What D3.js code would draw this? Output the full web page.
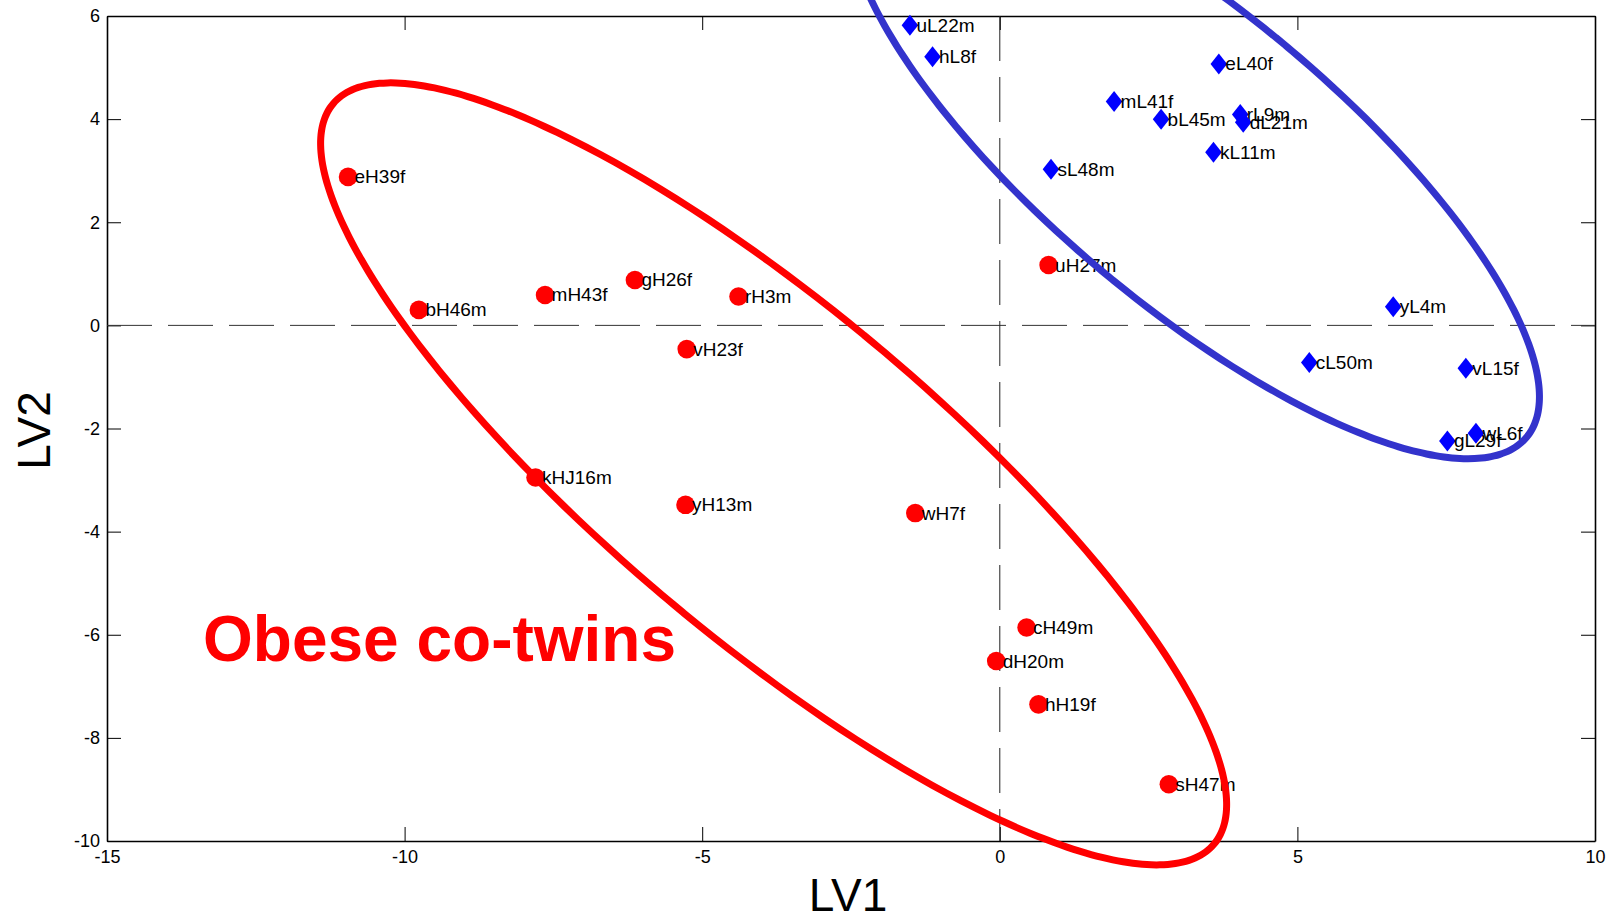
<!DOCTYPE html>
<html>
<head>
<meta charset="utf-8">
<script src="https://cdn.jsdelivr.net/npm/d3@7"></script>
<style>
  body { margin: 0; background: #fff; }
  text { font-family: "Liberation Sans", Arial, sans-serif; }
</style>
</head>
<body>
<svg id="chart" width="1616" height="917"></svg>
<script>
// lean co-twins (blue diamonds)
const leanNames = ["uL22m", "hL8f", "eL40f", "mL41f", "bL45m", "rL9m", "dL21m", "kL11m", "sL48m", "yL4m", "cL50m", "vL15f", "gL29f", "wL6f"]
const leanX = [-1.51, -1.13, 3.68, 1.92, 2.71, 4.04, 4.09, 3.59, 0.86, 6.61, 5.20, 7.83, 7.52, 8.00]
const leanY = [5.82, 5.21, 5.07, 4.34, 4.00, 4.09, 3.94, 3.36, 3.03, 0.36, -0.72, -0.83, -2.24, -2.09]

// obese co-twins (red circles)
const obeseNames = ["eH39f", "bH46m", "mH43f", "gH26f", "rH3m", "vH23f", "kHJ16m", "yH13m", "wH7f", "uH27m", "cH49m", "dH20m", "hH19f", "sH47m"]
const obeseX = [-10.95, -9.76, -7.64, -6.13, -4.39, -5.26, -7.80, -5.28, -1.42, 0.82, 0.45, -0.06, 0.65, 2.84]
const obeseY = [2.88, 0.30, 0.59, 0.88, 0.56, -0.46, -2.95, -3.48, -3.64, 1.17, -5.86, -6.51, -7.35, -8.90]

// group ellipses: centre and two semi-axis vectors, in LV units
const leanEllipseCenter = [3.27, 3.23]
const leanEllipseAxisA = [5.58, -5.40]
const leanEllipseAxisB = [-1.57, -2.16]
const obeseEllipseCenter = [-3.80, -2.88]
const obeseEllipseAxisA = [7.40, -7.18]
const obeseEllipseAxisB = [-1.78, -2.44]

const xTicks = [-15, -10, -5, 0, 5, 10]
const yTicks = [-10, -8, -6, -4, -2, 0, 2, 4, 6]
const xLabel = "LV1"
const yLabel = "LV2"
const annotation = "Obese co-twins"

const margin = {top: 16, right: 21, bottom: 76, left: 107}
const width = 1616 - margin.left - margin.right
const height = 917 - margin.top - margin.bottom

const svg = d3.select("#chart")
const g = svg.append("g").attr("transform", `translate(${margin.left},${margin.top})`)

const x = d3.scaleLinear().domain([-15, 10]).range([0, width])
const y = d3.scaleLinear().domain([-10, 6]).range([height, 0])

var styleAxis = function(sel) {
    sel.select(".domain").attr("stroke", "#000").attr("stroke-width", 1.6)
    sel.selectAll(".tick line").attr("stroke", "#000").attr("stroke-width", 1)
    sel.selectAll(".tick text")
        .attr("fill", "#000")
        .style("font-size", "18px")
        .style("font-family", "'Liberation Sans', Arial, sans-serif")
}

g.append("g")
    .attr("transform", `translate(0,${height})`)
    .call(d3.axisBottom(x).tickValues(xTicks).tickSizeInner(-14).tickSizeOuter(0).tickPadding(9).tickFormat((d) => String(d)))
    .call(styleAxis)

g.append("g")
    .call(d3.axisLeft(y).tickValues(yTicks).tickSizeInner(-14).tickSizeOuter(0).tickPadding(7).tickFormat((d) => String(d)))
    .call(styleAxis)

g.append("g")
    .call(d3.axisTop(x).tickValues(xTicks).tickSizeInner(-14).tickSizeOuter(0).tickFormat(""))
    .call(styleAxis)

g.append("g")
    .attr("transform", `translate(${width},0)`)
    .call(d3.axisRight(y).tickValues(yTicks).tickSizeInner(-14).tickSizeOuter(0).tickFormat(""))
    .call(styleAxis)

// zero lines
g.append("line")
    .attr("x1", 0).attr("x2", width)
    .attr("y1", y(0)).attr("y2", y(0))
    .attr("stroke", "#333").attr("stroke-width", 1).attr("stroke-dasharray", "45,16")

g.append("line")
    .attr("x1", x(0)).attr("x2", x(0))
    .attr("y1", 0).attr("y2", height)
    .attr("stroke", "#222").attr("stroke-width", 1).attr("stroke-dasharray", "45,16")

// axis titles
svg.append("text")
    .attr("x", margin.left + width / 2 - 3)
    .attr("y", 911)
    .attr("text-anchor", "middle")
    .style("font-size", "46px")
    .text(xLabel)

svg.append("text")
    .attr("transform", `translate(50,${margin.top + height / 2 + 2}) rotate(-90)`)
    .attr("text-anchor", "middle")
    .style("font-size", "46px")
    .text(yLabel)

var drawGroup = function(names, xs, ys, shape) {
    const rows = names.map((n, i) => ({name: n, x: xs[i], y: ys[i]}))
    const pts = g.append("g").selectAll("g")
        .data(rows)
        .join("g")
        .attr("transform", (d) => `translate(${x(d.x)},${y(d.y)})`)

    if (shape == "circle") {
        pts.append("circle").attr("r", 9.3).attr("fill", "#ff0000")
    } else {
        pts.append("path").attr("d", "M0,-10.5L8.3,0L0,10.5L-8.3,0Z").attr("fill", "#0000ff")
    }

    pts.append("text")
        .attr("x", 6.5)
        .attr("dy", "0.34em")
        .attr("fill", "#000")
        .style("font-size", "19px")
        .text((d) => d.name)
}

drawGroup(obeseNames, obeseX, obeseY, "circle")
drawGroup(leanNames, leanX, leanY, "diamond")

var drawEllipse = function(c, a, b, colour) {
    const t = d3.range(0, 360, 2).map((deg) => deg * Math.PI / 180)
    const line = d3.line()
        .x((s) => x(c[0] + a[0] * Math.cos(s) + b[0] * Math.sin(s)))
        .y((s) => y(c[1] + a[1] * Math.cos(s) + b[1] * Math.sin(s)))
        .curve(d3.curveCardinalClosed)
    g.append("path")
        .attr("d", line(t))
        .attr("fill", "none")
        .attr("stroke", colour)
        .attr("stroke-width", 7)
}

drawEllipse(obeseEllipseCenter, obeseEllipseAxisA, obeseEllipseAxisB, "#ff0000")
drawEllipse(leanEllipseCenter, leanEllipseAxisA, leanEllipseAxisB, "#3333cc")

svg.append("text")
    .attr("x", 203)
    .attr("y", 661)
    .attr("fill", "#ff0000")
    .style("font-size", "64px")
    .style("font-weight", "bold")
    .text(annotation)
</script>
</body>
</html>
